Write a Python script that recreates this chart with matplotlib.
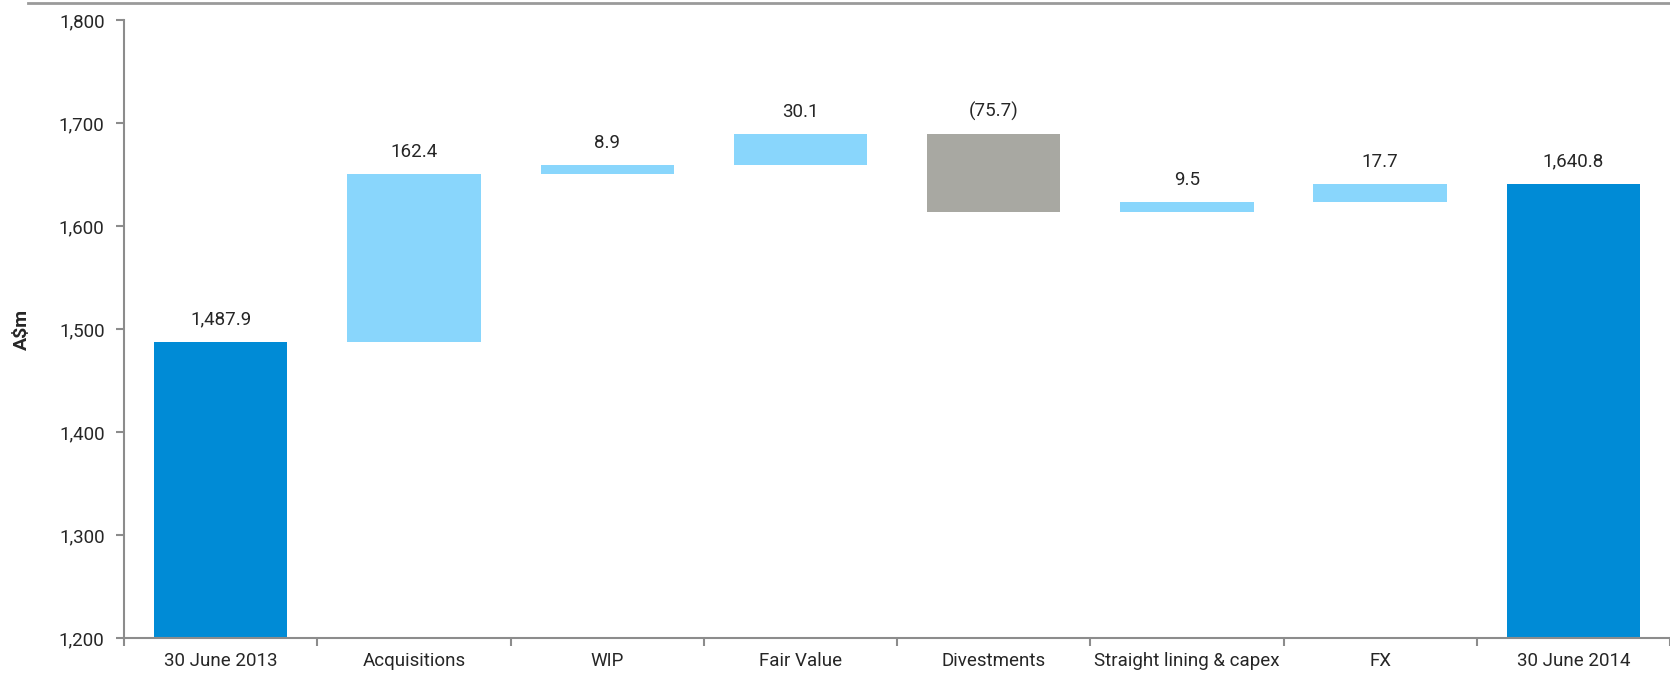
import numpy as np
import matplotlib
matplotlib.use('Agg')
import matplotlib.pyplot as plt
from matplotlib.lines import Line2D

plt.rcParams['font.family'] = ['Roboto', 'DejaVu Sans']

# data
categories = ['30 June 2013', 'Acquisitions', 'WIP', 'Fair Value', 'Divestments',
              'Straight lining & capex', 'FX', '30 June 2014']
start_value = 1487.9
changes = [162.4, 8.9, 30.1, -75.7, 9.5, 17.7]
end_value = 1640.8

dark_blue = '#008BD6'
light_blue = '#89D6FC'
grey = '#A8A8A2'
text_col = '#262626'

# waterfall bottoms/heights
bottoms, heights, colors, labels = [], [], [], []
bottoms.append(0)
heights.append(start_value)
colors.append(dark_blue)
labels.append(f'{start_value:,.1f}')
running = start_value
for c in changes:
    if c >= 0:
        bottoms.append(running)
        heights.append(c)
        colors.append(light_blue)
        labels.append(f'{c:,.1f}')
    else:
        bottoms.append(running + c)
        heights.append(-c)
        colors.append(grey)
        labels.append(f'({-c:,.1f})')
    running += c
bottoms.append(0)
heights.append(end_value)
colors.append(dark_blue)
labels.append(f'{end_value:,.1f}')

fig = plt.figure(figsize=(16.7, 6.75), dpi=100)
ax = fig.add_axes([0.0743, 0.055, 0.9257, 0.915])

x = np.arange(len(categories))
ax.bar(x, heights, bottom=bottoms, width=0.69, color=colors)

for xi, b, h, lab in zip(x, bottoms, heights, labels):
    ax.text(xi, b + h + 13, lab, ha='center', va='bottom', fontsize=13.5, color=text_col)

ax.set_ylim(1200, 1800)
ax.set_xlim(-0.5, len(categories) - 0.5)
ax.set_yticks(np.arange(1200, 1801, 100))
ax.set_yticklabels([f'{v:,}' for v in range(1200, 1801, 100)], fontsize=13.5, color=text_col)

# category labels centered, ticks at boundaries
ax.set_xticks(x)
ax.set_xticklabels(categories, fontsize=13.5, color=text_col)
ax.tick_params(axis='x', length=0, pad=10)
ax.set_xticks(np.arange(-0.5, len(categories) + 0.5, 1), minor=True)
ax.tick_params(axis='x', which='minor', length=6, color='#8c8c8c', width=1.5, direction='out')
ax.tick_params(axis='y', length=6, color='#8c8c8c', width=1.5, direction='out', pad=8)

for s in ['top', 'right']:
    ax.spines[s].set_visible(False)
for s in ['left', 'bottom']:
    ax.spines[s].set_color('#8c8c8c')
    ax.spines[s].set_linewidth(1.5)

ax.set_ylabel('A$m', fontsize=14, fontweight='bold', color=text_col, labelpad=20)

# top rule across figure
fig.add_artist(Line2D([0.017, 1.0], [0.996, 0.996], color='#9a9a9a', linewidth=2))

fig.savefig('out.png', dpi=100)
